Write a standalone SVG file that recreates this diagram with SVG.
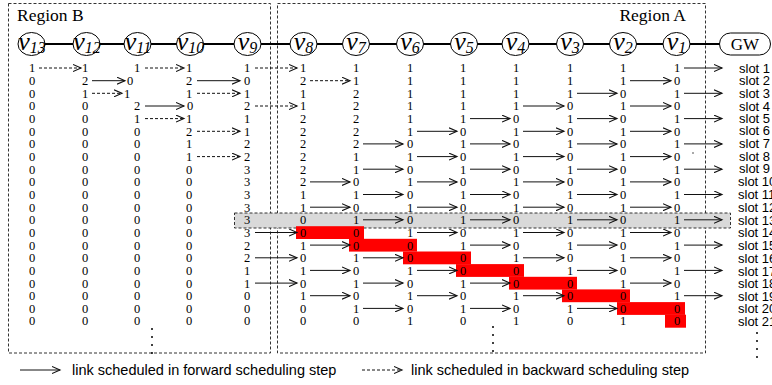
<svg xmlns="http://www.w3.org/2000/svg" width="772" height="385" viewBox="0 0 772 385">
<defs>
<style>
.reg{fill:none;stroke:#333;stroke-width:1;stroke-dasharray:3 2}
.band{fill:#d9d9d9;stroke:#333;stroke-width:1;stroke-dasharray:3 2}
.red{fill:#ff0000}
.chain{stroke:#000;stroke-width:2}
.nd{fill:#fff;stroke:#000;stroke-width:1}
.lbl{font-family:"Liberation Serif",serif;font-style:italic;font-size:26px;text-anchor:middle;fill:#000}
.sub{font-size:16px}
.gw{font-family:"Liberation Serif",serif;font-size:17px;text-anchor:middle}
.n{font-family:"Liberation Serif",serif;font-size:12.5px;text-anchor:middle;fill:#000}
.slot{font-family:"Liberation Sans",Arial,sans-serif;font-size:13px;fill:#000}
.rt{font-family:"Liberation Serif",serif;font-size:17.5px;fill:#000}
.lg{font-family:"Liberation Sans",Arial,sans-serif;font-size:14.5px;fill:#000}
.s{stroke:#111;stroke-width:1;fill:none;marker-end:url(#ah)}
.d{stroke:#111;stroke-width:1;fill:none;stroke-dasharray:3 2;marker-end:url(#ah)}
.dot{fill:#000}
</style>
<marker id="ah" markerUnits="userSpaceOnUse" markerWidth="10" markerHeight="8" refX="8" refY="4" orient="auto">
<path d="M0,0.5 L8,4 L0,7.5" fill="none" stroke="#111" stroke-width="1.1" stroke-dasharray="none"/>
</marker>
</defs>

<g id="regions">
<rect class="reg" x="8.5" y="3.5" width="262" height="349.5"/>
<rect class="reg" x="277.5" y="3.5" width="428" height="349.5"/>
<text class="rt" x="17" y="21">Region B</text>
<text class="rt" x="686" y="21" text-anchor="end">Region A</text>
</g>

<g id="slot13-band">
<rect class="band" x="234.5" y="213" width="496" height="15"/>
</g>

<g id="scheduled-red">
<rect class="red" x="296" y="226.2" width="68" height="12.8"/>
<rect class="red" x="349" y="238.8" width="68" height="12.8"/>
<rect class="red" x="403" y="251.5" width="68" height="12.8"/>
<rect class="red" x="456" y="264.1" width="68" height="12.8"/>
<rect class="red" x="509" y="276.8" width="68" height="12.8"/>
<rect class="red" x="562" y="289.4" width="68" height="12.8"/>
<rect class="red" x="617" y="302.1" width="68" height="12.8"/>
<rect class="red" x="665" y="314.7" width="21" height="13"/>
</g>

<g id="connectors">
<line class="chain" x1="31.5" y1="44" x2="720" y2="44"/>
<!-- slot 1 -->
<line class="d" x1="39" y1="68" x2="81" y2="68"/>
<line class="d" x1="145" y1="68" x2="184" y2="68"/>
<line class="d" x1="255" y1="68" x2="297" y2="68"/>
<line class="s" x1="684" y1="68" x2="722" y2="68"/>
<!-- slot 2 -->
<line class="s" x1="92" y1="80.7" x2="125" y2="80.7"/>
<line class="s" x1="197" y1="80.7" x2="240" y2="80.7"/>
<line class="d" x1="310" y1="80.7" x2="350" y2="80.7"/>
<line class="s" x1="630" y1="80.7" x2="671" y2="80.7"/>
<!-- slot 3 -->
<line class="d" x1="92" y1="93.3" x2="122" y2="93.3"/>
<line class="d" x1="197" y1="93.3" x2="240" y2="93.3"/>
<line class="s" x1="577" y1="93.3" x2="617" y2="93.3"/>
<line class="s" x1="684" y1="93.3" x2="722" y2="93.3"/>
<!-- slot 4 -->
<line class="s" x1="145" y1="106" x2="184" y2="106"/>
<line class="d" x1="255" y1="106" x2="297" y2="106"/>
<line class="s" x1="523" y1="106" x2="564" y2="106"/>
<line class="s" x1="630" y1="106" x2="671" y2="106"/>
<!-- slot 5 -->
<line class="d" x1="145" y1="118.6" x2="184" y2="118.6"/>
<line class="s" x1="470" y1="118.6" x2="510" y2="118.6"/>
<line class="s" x1="577" y1="118.6" x2="617" y2="118.6"/>
<line class="s" x1="684" y1="118.6" x2="722" y2="118.6"/>
<!-- slot 6 -->
<line class="d" x1="197" y1="131.3" x2="240" y2="131.3"/>
<line class="s" x1="417" y1="131.3" x2="457" y2="131.3"/>
<line class="s" x1="523" y1="131.3" x2="564" y2="131.3"/>
<line class="s" x1="630" y1="131.3" x2="671" y2="131.3"/>
<!-- slot 7 -->
<line class="s" x1="363" y1="143.9" x2="403" y2="143.9"/>
<line class="s" x1="470" y1="143.9" x2="510" y2="143.9"/>
<line class="s" x1="577" y1="143.9" x2="617" y2="143.9"/>
<line class="s" x1="684" y1="143.9" x2="722" y2="143.9"/>
<!-- slot 8 -->
<line class="d" x1="197" y1="156.6" x2="240" y2="156.6"/>
<line class="s" x1="417" y1="156.6" x2="457" y2="156.6"/>
<line class="s" x1="523" y1="156.6" x2="564" y2="156.6"/>
<line class="s" x1="630" y1="156.6" x2="671" y2="156.6"/>
<!-- slot 9 -->
<line class="s" x1="363" y1="169.2" x2="403" y2="169.2"/>
<line class="s" x1="470" y1="169.2" x2="510" y2="169.2"/>
<line class="s" x1="577" y1="169.2" x2="617" y2="169.2"/>
<line class="s" x1="684" y1="169.2" x2="722" y2="169.2"/>
<!-- slot 10 -->
<line class="s" x1="310" y1="181.9" x2="350" y2="181.9"/>
<line class="s" x1="417" y1="181.9" x2="457" y2="181.9"/>
<line class="s" x1="523" y1="181.9" x2="564" y2="181.9"/>
<line class="s" x1="630" y1="181.9" x2="671" y2="181.9"/>
<!-- slot 11 -->
<line class="s" x1="363" y1="194.5" x2="403" y2="194.5"/>
<line class="s" x1="470" y1="194.5" x2="510" y2="194.5"/>
<line class="s" x1="577" y1="194.5" x2="617" y2="194.5"/>
<line class="s" x1="684" y1="194.5" x2="722" y2="194.5"/>
<!-- slot 12 -->
<line class="s" x1="310" y1="207.2" x2="350" y2="207.2"/>
<line class="s" x1="417" y1="207.2" x2="457" y2="207.2"/>
<line class="s" x1="523" y1="207.2" x2="564" y2="207.2"/>
<line class="s" x1="630" y1="207.2" x2="671" y2="207.2"/>
<!-- slot 13 -->
<line class="s" x1="363" y1="219.8" x2="403" y2="219.8"/>
<line class="s" x1="470" y1="219.8" x2="510" y2="219.8"/>
<line class="s" x1="577" y1="219.8" x2="617" y2="219.8"/>
<line class="s" x1="684" y1="219.8" x2="722" y2="219.8"/>
<!-- slot 14 -->
<line class="s" x1="255" y1="232.5" x2="297" y2="232.5"/>
<line class="s" x1="417" y1="232.5" x2="457" y2="232.5"/>
<line class="s" x1="523" y1="232.5" x2="564" y2="232.5"/>
<line class="s" x1="630" y1="232.5" x2="671" y2="232.5"/>
<!-- slot 15 -->
<line class="s" x1="310" y1="245.1" x2="350" y2="245.1"/>
<line class="s" x1="470" y1="245.1" x2="510" y2="245.1"/>
<line class="s" x1="577" y1="245.1" x2="617" y2="245.1"/>
<line class="s" x1="684" y1="245.1" x2="722" y2="245.1"/>
<!-- slot 16 -->
<line class="s" x1="255" y1="257.8" x2="297" y2="257.8"/>
<line class="s" x1="363" y1="257.8" x2="403" y2="257.8"/>
<line class="s" x1="523" y1="257.8" x2="564" y2="257.8"/>
<line class="s" x1="630" y1="257.8" x2="671" y2="257.8"/>
<!-- slot 17 -->
<line class="s" x1="310" y1="270.4" x2="350" y2="270.4"/>
<line class="s" x1="417" y1="270.4" x2="457" y2="270.4"/>
<line class="s" x1="577" y1="270.4" x2="617" y2="270.4"/>
<line class="s" x1="684" y1="270.4" x2="722" y2="270.4"/>
<!-- slot 18 -->
<line class="s" x1="255" y1="283.1" x2="297" y2="283.1"/>
<line class="s" x1="363" y1="283.1" x2="403" y2="283.1"/>
<line class="s" x1="470" y1="283.1" x2="510" y2="283.1"/>
<line class="s" x1="630" y1="283.1" x2="671" y2="283.1"/>
<!-- slot 19 -->
<line class="s" x1="310" y1="295.7" x2="350" y2="295.7"/>
<line class="s" x1="417" y1="295.7" x2="457" y2="295.7"/>
<line class="s" x1="523" y1="295.7" x2="564" y2="295.7"/>
<line class="s" x1="684" y1="295.7" x2="722" y2="295.7"/>
<!-- slot 20 -->
<line class="s" x1="363" y1="308.4" x2="403" y2="308.4"/>
<line class="s" x1="470" y1="308.4" x2="510" y2="308.4"/>
<line class="s" x1="577" y1="308.4" x2="617" y2="308.4"/>
</g>

<g id="node-v13"><ellipse class="nd" cx="31.5" cy="44" rx="13.5" ry="11.5"/><text class="lbl" x="32" y="50">v<tspan class="sub" dy="3">13</tspan></text></g>
<g id="node-v12"><ellipse class="nd" cx="86.5" cy="44" rx="13.5" ry="11.5"/><text class="lbl" x="87" y="50">v<tspan class="sub" dy="3">12</tspan></text></g>
<g id="node-v11"><ellipse class="nd" cx="137.5" cy="44" rx="13.5" ry="11.5"/><text class="lbl" x="138" y="50">v<tspan class="sub" dy="3">11</tspan></text></g>
<g id="node-v10"><ellipse class="nd" cx="190" cy="44" rx="13.5" ry="11.5"/><text class="lbl" x="190.5" y="50">v<tspan class="sub" dy="3">10</tspan></text></g>
<g id="node-v9"><ellipse class="nd" cx="247.5" cy="44" rx="13.5" ry="11.5"/><text class="lbl" x="247.5" y="50">v<tspan class="sub" dy="3">9</tspan></text></g>
<g id="node-v8"><ellipse class="nd" cx="303.5" cy="44" rx="13.5" ry="11.5"/><text class="lbl" x="303.5" y="50">v<tspan class="sub" dy="3">8</tspan></text></g>
<g id="node-v7"><ellipse class="nd" cx="356" cy="44" rx="13.5" ry="11.5"/><text class="lbl" x="356" y="50">v<tspan class="sub" dy="3">7</tspan></text></g>
<g id="node-v6"><ellipse class="nd" cx="410" cy="44" rx="13.5" ry="11.5"/><text class="lbl" x="410" y="50">v<tspan class="sub" dy="3">6</tspan></text></g>
<g id="node-v5"><ellipse class="nd" cx="464" cy="44" rx="13.5" ry="11.5"/><text class="lbl" x="464" y="50">v<tspan class="sub" dy="3">5</tspan></text></g>
<g id="node-v4"><ellipse class="nd" cx="515.5" cy="44" rx="13.5" ry="11.5"/><text class="lbl" x="515.5" y="50">v<tspan class="sub" dy="3">4</tspan></text></g>
<g id="node-v3"><ellipse class="nd" cx="570" cy="44" rx="13.5" ry="11.5"/><text class="lbl" x="570" y="50">v<tspan class="sub" dy="3">3</tspan></text></g>
<g id="node-v2"><ellipse class="nd" cx="623" cy="44" rx="13.5" ry="11.5"/><text class="lbl" x="623" y="50">v<tspan class="sub" dy="3">2</tspan></text></g>
<g id="node-v1"><ellipse class="nd" cx="676.5" cy="44" rx="13.5" ry="11.5"/><text class="lbl" x="676.5" y="50">v<tspan class="sub" dy="3">1</tspan></text></g>
<g id="node-GW"><rect class="nd" x="719.5" y="33" width="51" height="22" rx="11" ry="11"/><text class="gw" x="745" y="50">GW</text></g>

<g id="queue-values">
<text class="n" y="72.4" x="32 85 137 189 247 303 356 410 463 516 570 623 677">1111111111111</text>
<text class="n" y="85.1" x="32 85 130 189 247 303 356 410 463 516 570 623 677">0202021111110</text>
<text class="n" y="97.7" x="32 85 127 189 247 303 356 410 463 516 570 623 677">0111112111101</text>
<text class="n" y="110.4" x="32 85 137 190 247 303 356 410 463 516 570 623 677">0020212111010</text>
<text class="n" y="123" x="32 85 137 189 247 303 356 410 463 516 570 623 677">0011122110101</text>
<text class="n" y="135.7" x="32 85 137 189 247 303 356 410 463 516 570 623 677">0002122101010</text>
<text class="n" y="148.3" x="32 85 137 189 247 303 356 410 463 516 570 623 677">0001222010101</text>
<text class="n" y="161" x="32 85 137 189 247 303 356 410 463 516 570 623 677">0001221101010</text>
<text class="n" y="173.6" x="32 85 137 189 247 303 356 410 463 516 570 623 677">0000321010101</text>
<text class="n" y="186.3" x="32 85 137 189 247 303 356 410 463 516 570 623 677">0000320101010</text>
<text class="n" y="198.9" x="32 85 137 189 247 303 356 410 463 516 570 623 677">0000311010101</text>
<text class="n" y="211.6" x="32 85 137 189 247 303 356 410 463 516 570 623 677">0000310101010</text>
<text class="n" y="224.2" x="32 85 137 189 247 303 356 410 463 516 570 623 677">0000301010101</text>
<text class="n" y="236.9" x="32 85 137 189 247 303 356 410 463 516 570 623 677">0000300101010</text>
<text class="n" y="249.5" x="32 85 137 189 247 303 356 410 463 516 570 623 677">0000210010101</text>
<text class="n" y="262.2" x="32 85 137 189 247 303 356 410 463 516 570 623 677">0000201001010</text>
<text class="n" y="274.8" x="32 85 137 189 247 303 356 410 463 516 570 623 677">0000110100101</text>
<text class="n" y="287.5" x="32 85 137 189 247 303 356 410 463 516 570 623 677">0000101010010</text>
<text class="n" y="300.1" x="32 85 137 189 247 303 356 410 463 516 570 623 677">0000010101001</text>
<text class="n" y="312.8" x="32 85 137 189 247 303 356 410 463 516 570 623 677">0000001010100</text>
<text class="n" y="325.4" x="32 85 137 189 247 303 356 410 463 516 570 623 677">0000000101010</text>
</g>

<g id="slot-labels">
<text class="slot" x="739" y="72.5">slot 1</text>
<text class="slot" x="739" y="85">slot 2</text>
<text class="slot" x="739" y="97.5">slot 3</text>
<text class="slot" x="739" y="110.5">slot 4</text>
<text class="slot" x="739" y="122.5">slot 5</text>
<text class="slot" x="739" y="135">slot 6</text>
<text class="slot" x="739" y="148">slot 7</text>
<text class="slot" x="739" y="161">slot 8</text>
<text class="slot" x="739" y="173">slot 9</text>
<text class="slot" x="738" y="186">slot 10</text>
<text class="slot" x="738" y="199">slot 11</text>
<text class="slot" x="738" y="211.5">slot 12</text>
<text class="slot" x="738" y="224.5">slot 13</text>
<text class="slot" x="738" y="237">slot 14</text>
<text class="slot" x="738" y="250">slot 15</text>
<text class="slot" x="738" y="262.5">slot 16</text>
<text class="slot" x="738" y="275.5">slot 17</text>
<text class="slot" x="738" y="288">slot 18</text>
<text class="slot" x="738" y="300.5">slot 19</text>
<text class="slot" x="738" y="313">slot 20</text>
<text class="slot" x="738" y="325.5">slot 21</text>
</g>

<g id="ellipsis-dots">
<circle class="dot" cx="152" cy="329" r="1"/><circle class="dot" cx="152" cy="337" r="1"/><circle class="dot" cx="152" cy="345" r="1"/><circle class="dot" cx="152" cy="353" r="1"/>
<circle class="dot" cx="493" cy="327" r="1"/><circle class="dot" cx="493" cy="335" r="1"/><circle class="dot" cx="493" cy="343" r="1"/><circle class="dot" cx="493" cy="351" r="1"/>
<circle class="dot" cx="757" cy="333" r="1"/><circle class="dot" cx="757" cy="341" r="1"/><circle class="dot" cx="757" cy="349" r="1"/><circle class="dot" cx="757" cy="357" r="1"/>
<rect x="692" y="152.5" width="2" height="1" fill="#555"/>
</g>

<g id="legend">
<line class="s" x1="20" y1="370" x2="60" y2="370"/>
<text class="lg" x="72" y="375">link scheduled in forward scheduling step</text>
<line class="d" x1="362" y1="370" x2="402" y2="370"/>
<text class="lg" x="411" y="375">link scheduled in backward scheduling step</text>
</g>
</svg>
